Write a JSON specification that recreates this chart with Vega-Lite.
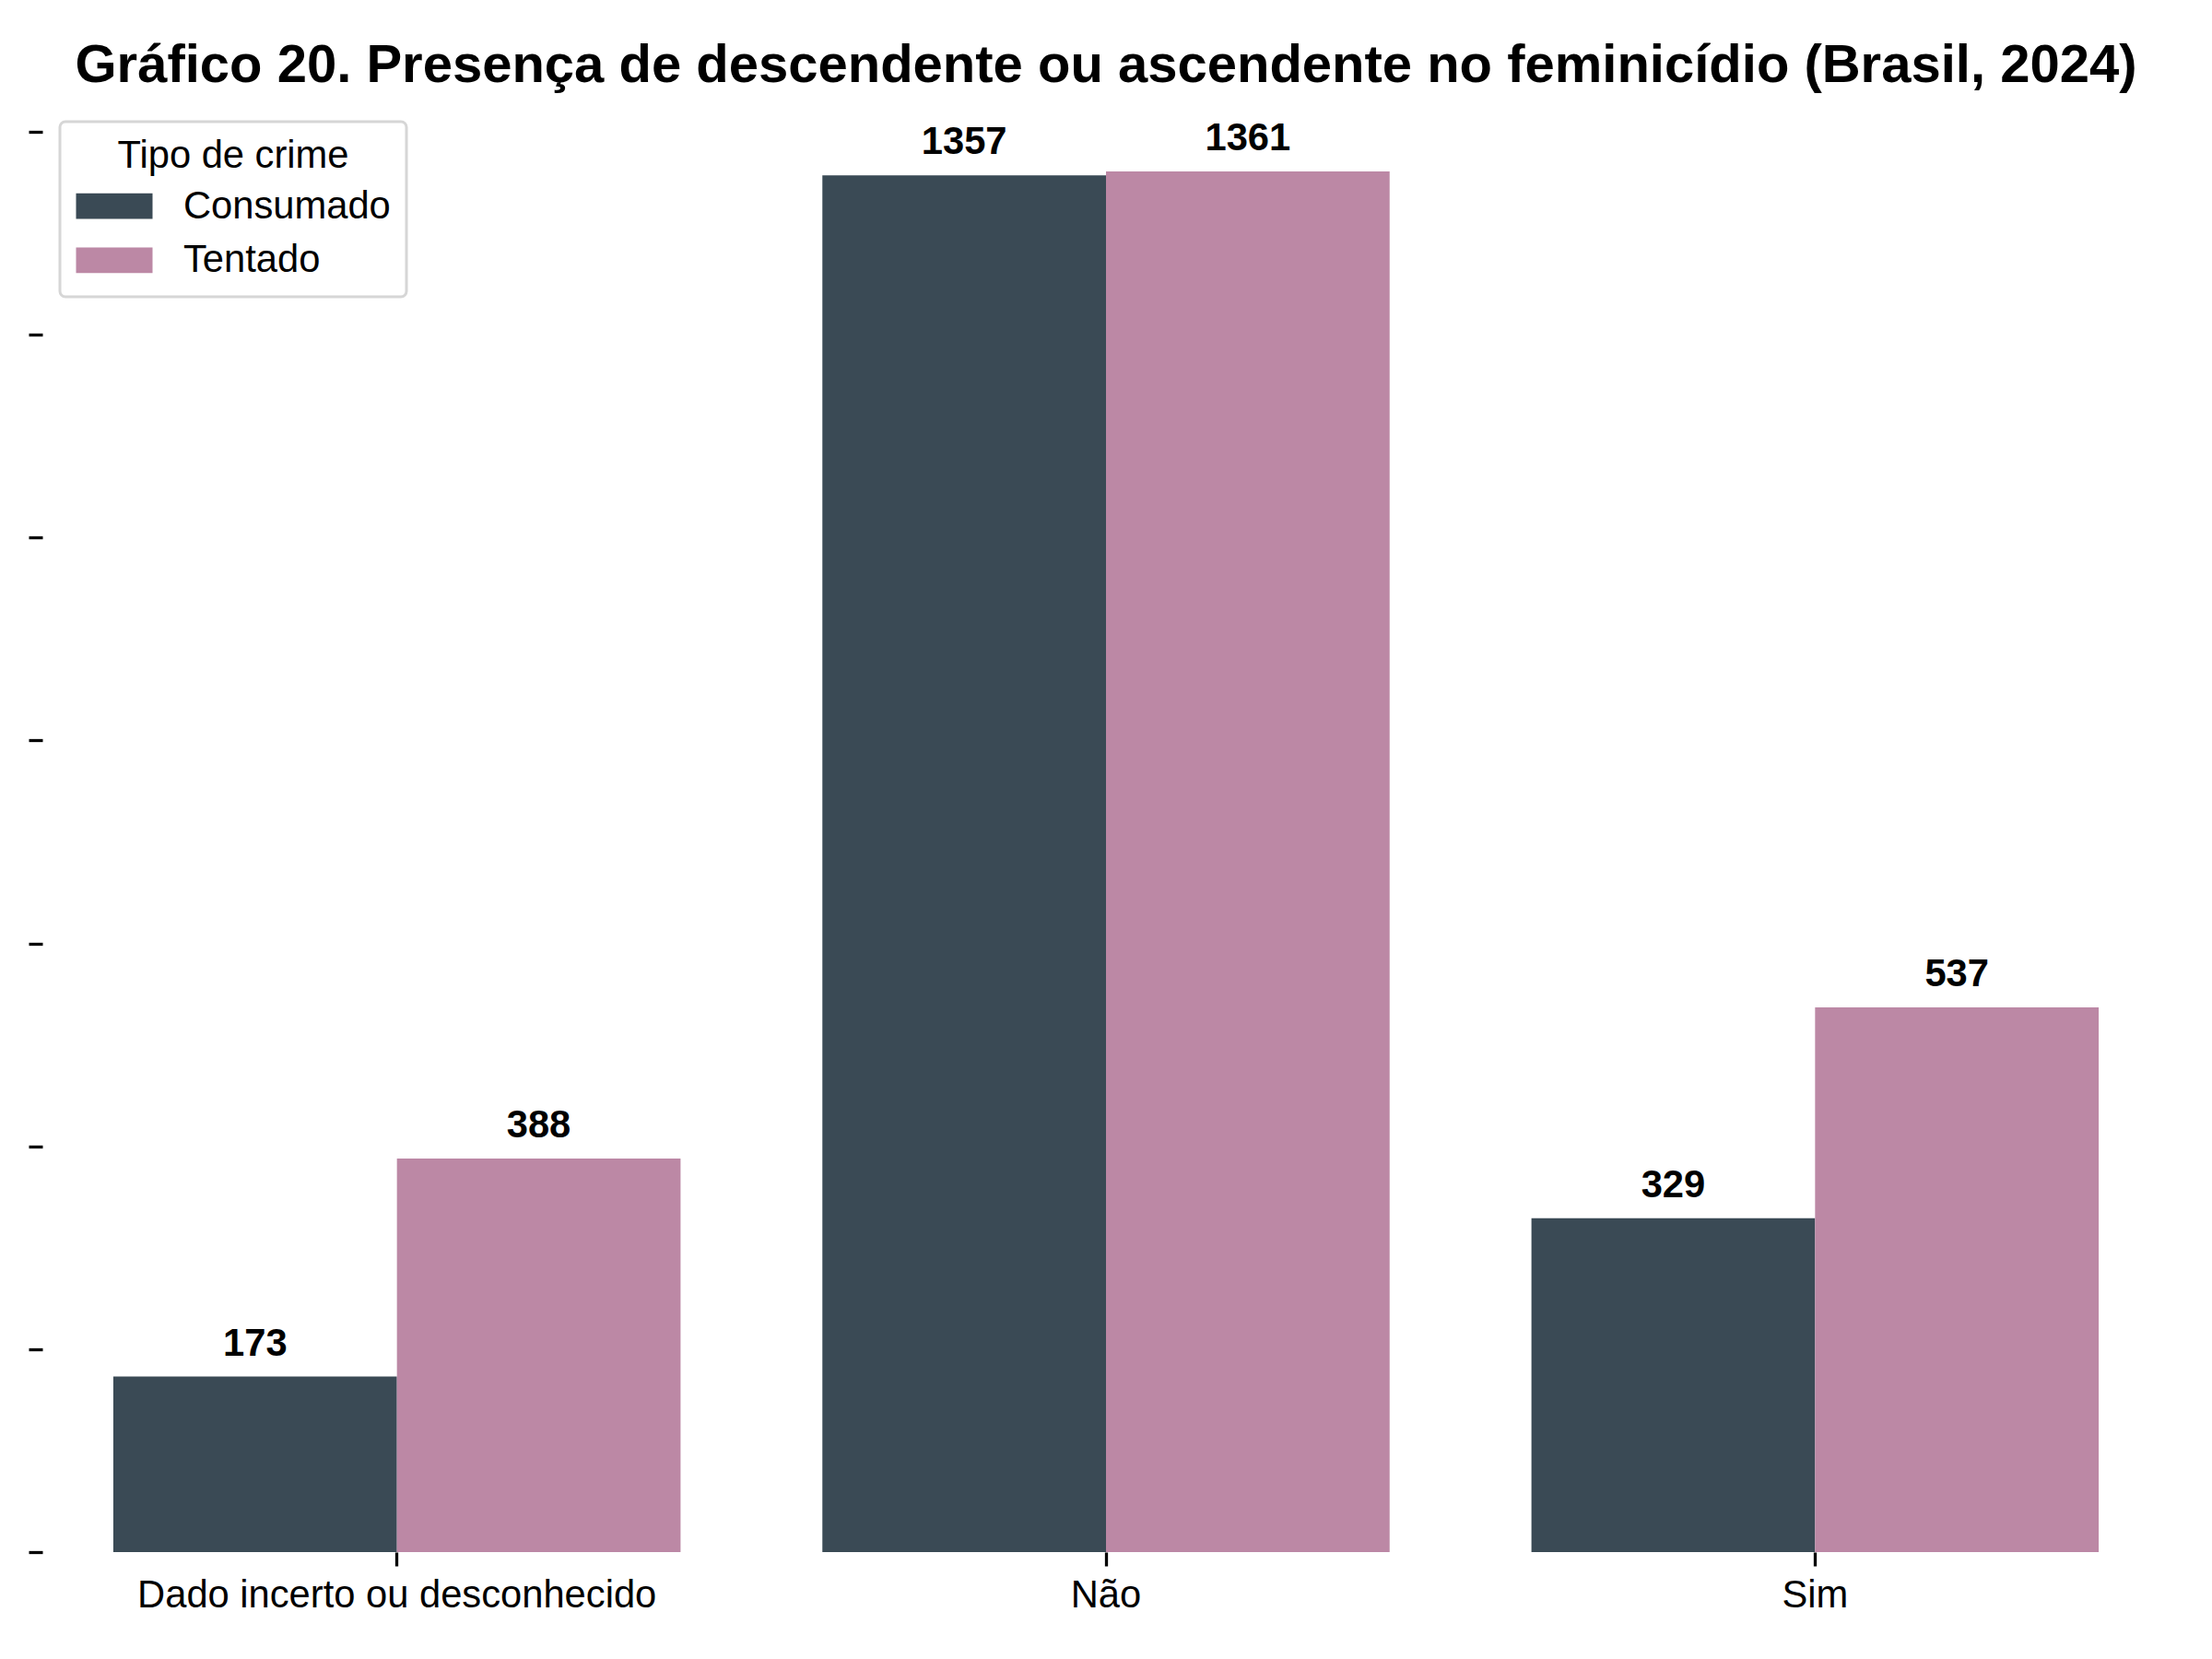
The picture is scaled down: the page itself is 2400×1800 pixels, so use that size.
{
  "$schema": "https://vega.github.io/schema/vega-lite/v6.json",
  "autosize": {"type": "none"},
  "padding": {"left": 46, "top": 111, "right": 46, "bottom": 116},
  "width": 2308,
  "height": 1573,
  "background": "white",
  "title": {
    "text": "Gráfico 20. Presença de descendente ou ascendente no feminicídio (Brasil, 2024)",
    "font": "Liberation Sans",
    "fontSize": 58,
    "fontWeight": "bold",
    "color": "black",
    "anchor": "middle",
    "baseline": "alphabetic",
    "offset": -36,
    "limit": 0
  },
  "data": {
    "values": [
      {"cat": "Dado incerto ou desconhecido", "tipo": "Consumado", "valor": 173},
      {"cat": "Dado incerto ou desconhecido", "tipo": "Tentado", "valor": 388},
      {"cat": "Não", "tipo": "Consumado", "valor": 1357},
      {"cat": "Não", "tipo": "Tentado", "valor": 1361},
      {"cat": "Sim", "tipo": "Consumado", "valor": 329},
      {"cat": "Sim", "tipo": "Tentado", "valor": 537}
    ]
  },
  "encoding": {
    "x": {
      "field": "cat",
      "type": "nominal",
      "sort": ["Dado incerto ou desconhecido", "Não", "Sim"],
      "scale": {"paddingInner": 0.2, "paddingOuter": 0.1},
      "axis": {
        "title": null,
        "domain": false,
        "grid": false,
        "labelAngle": 0,
        "labelFont": "Liberation Sans",
        "labelFontSize": 41.7,
        "labelColor": "black",
        "labelLimit": 2000,
        "tickColor": "black",
        "tickSize": 15,
        "tickWidth": 3.3,
        "labelPadding": 11
      }
    },
    "xOffset": {
      "field": "tipo",
      "type": "nominal",
      "sort": ["Consumado", "Tentado"],
      "scale": {"paddingInner": 0, "paddingOuter": 0}
    },
    "y": {
      "field": "valor",
      "type": "quantitative",
      "scale": {"domain": [0, 1429.05], "nice": false, "zero": true},
      "axis": {
        "title": null,
        "domain": false,
        "grid": false,
        "labels": false,
        "ticks": true,
        "tickSize": 15,
        "tickWidth": 3.3,
        "tickColor": "black",
        "values": [0, 200, 400, 600, 800, 1000, 1200, 1400]
      }
    }
  },
  "layer": [
    {
      "mark": {"type": "bar"},
      "encoding": {
        "color": {
          "field": "tipo",
          "type": "nominal",
          "scale": {"domain": ["Consumado", "Tentado"], "range": ["#3a4a55", "#bc88a5"]},
          "legend": {
            "orient": "none",
            "legendX": 19,
            "legendY": 21,
            "title": "Tipo de crime",
            "titleFont": "Liberation Sans",
            "titleFontSize": 41.7,
            "titleFontWeight": "normal",
            "titleColor": "black",
            "titleAnchor": "middle",
            "titleLimit": 2000,
            "titlePadding": 5,
            "labelFont": "Liberation Sans",
            "labelFontSize": 41.7,
            "labelColor": "black",
            "labelLimit": 2000,
            "labelOffset": 47,
            "symbolType": "M-1.5,-0.5H1.5V0.5H-1.5Z",
            "symbolSize": 3062,
            "symbolOffset": 14,
            "symbolStrokeWidth": 0,
            "symbolOpacity": 1,
            "rowPadding": 8.7,
            "padding": 17,
            "strokeColor": "#d6d6d6",
            "cornerRadius": 6,
            "fillColor": "white",
            "encode": {
              "legend": {"update": {"strokeWidth": {"value": 3}}}
            }
          }
        }
      }
    },
    {
      "mark": {
        "type": "text",
        "dy": -23,
        "baseline": "alphabetic",
        "font": "Liberation Sans",
        "fontSize": 41.7,
        "fontWeight": "bold",
        "color": "black"
      },
      "encoding": {
        "text": {"field": "valor", "type": "quantitative", "format": "d"}
      }
    }
  ],
  "config": {"view": {"stroke": null}}
}
